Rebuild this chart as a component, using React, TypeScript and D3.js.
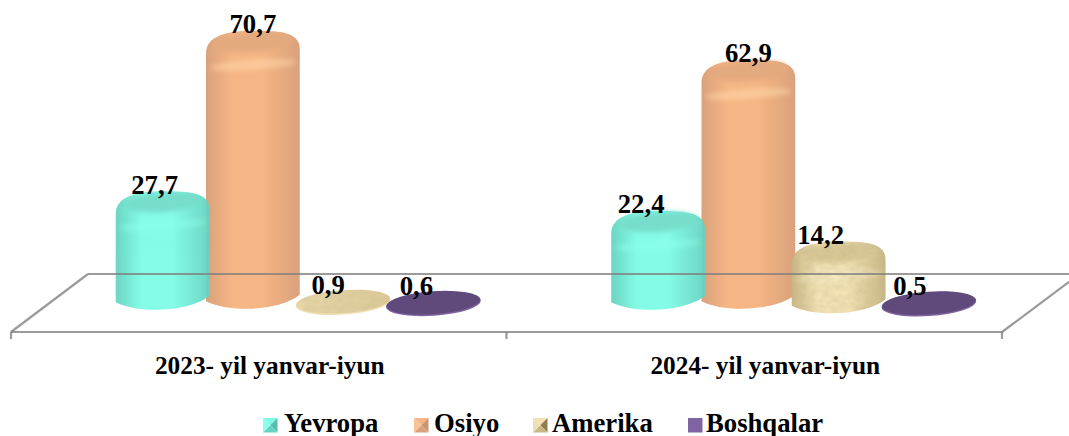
import React from "react";
import * as d3 from "d3";

const categories = ["2023- yil yanvar-iyun", "2024- yil yanvar-iyun"];
const seriesNames = ["Yevropa", "Osiyo", "Amerika", "Boshqalar"];
const yevropa = [27.7, 22.4];
const osiyo = [70.7, 62.9];
const amerika = [0.9, 14.2];
const boshqalar = [0.6, 0.5];
const seriesValues = [yevropa, osiyo, amerika, boshqalar];

const W = 1069, H = 436;
const FONT = "'Liberation Serif','Times New Roman',serif";
const fmt = (v: number) => v.toFixed(1).replace(".", ",");

const x0 = d3.scaleBand().domain(categories).range([11, 1002]);
const x1 = d3.scaleBand().domain(seriesNames).range([106.5, 467.5]);
const y = d3.scaleLinear().domain([0, 70.7]).range([307, 43.3]);

const RX = 47, RY = 12.5, TILT = 4;
const rad = (TILT * Math.PI) / 180;
const baseLift = [8, 9, 4.5, 4.5];
const labelShift = [[-8, 0, -15, -17], [-17, 0, -18, -19]];
const legendX = [263, 414, 533, 688];
const legendTextX = [284, 434, 552, 706];

const palette = [
  { id: "teal", edge: "#63d2bf", mid: "#7bfce4", cap: "#6cdcc8", hi: "#82ffea", light: "#8cfff0", dark: "#55bfae" },
  { id: "orange", edge: "#d9a27c", mid: "#f6b584", cap: "#e3a97f", hi: "#ffd9a8", light: "#f8c496", dark: "#c99670" },
  { id: "sand", edge: "#c8b684", mid: "#f2e2b4", cap: "#d8c694", hi: "#f7ecc6", light: "#efe0b2", dark: "#8f7c50" },
  { id: "purple", edge: "#604a7b", mid: "#604a7b", cap: "#604a7b", hi: "#604a7b", light: "#8064a2", dark: "#4f3d67" },
];

function cylinderPath(cx: number, top: number, base: number) {
  const dx = RX * Math.cos(rad), dy = RX * Math.sin(rad);
  const sh = 20;
  const path = d3.path();
  path.moveTo(cx - dx, base + dy);
  path.lineTo(cx - dx, top + sh + dy * 0.7);
  path.bezierCurveTo(cx - dx, top + 4 + dy * 0.4, cx - dx * 0.55, top, cx, top);
  path.bezierCurveTo(cx + dx * 0.55, top, cx + dx, top + 1 - dy * 0.1, cx + dx, top + sh - dy * 0.5);
  path.lineTo(cx + dx, base - dy);
  path.bezierCurveTo(cx + dx * 0.6, base + RY, cx - dx * 0.5, base + RY + 3, cx - dx, base + dy);
  path.closePath();
  return path.toString();
}

function Cylinder({ s, v, cx }: { s: number; v: number; cx: number }) {
  const p = palette[s];
  const cy = y(v);
  if (v < 2) {
    return (
      <g transform={`rotate(${-TILT} ${cx} ${cy - 2})`}>
        <ellipse cx={cx} cy={cy - 1} rx={RX + 0.5} ry={RY - 0.5} fill={p.light} />
        <ellipse cx={cx} cy={cy - 2} rx={RX} ry={RY - 1} fill={s === 2 ? "url(#sandCap)" : p.mid} />
        {s === 2 && <ellipse cx={cx} cy={cy - 2} rx={RX} ry={RY - 1} fill="#fff" filter="url(#wood)" opacity={0.5} />}
      </g>
    );
  }
  const top = cy - RY;
  const base = y(0) - baseLift[s];
  const d = cylinderPath(cx, top, base);
  const clipId = `clip-${s}-${Math.round(cx)}`;
  return (
    <g opacity={s === 0 ? 0.93 : 1}>
      <clipPath id={clipId}><path d={d} /></clipPath>
      <path d={d} fill={`url(#body-${p.id})`} />
      <g clipPath={`url(#${clipId})`} filter="url(#soft)">
        <ellipse cx={cx} cy={top + 34} rx={RX - 4} ry={5} fill={p.hi} opacity={0.55} transform={`rotate(${-TILT} ${cx} ${top + 34})`} />
        <ellipse cx={cx} cy={top + 11} rx={RX - 8} ry={10} fill={p.cap} transform={`rotate(${-TILT} ${cx} ${top + 11})`} />
      </g>
      {s === 2 && <path d={d} fill="#fff" filter="url(#wood)" opacity={0.6} />}
    </g>
  );
}

function Swatch({ s, x }: { s: number; x: number }) {
  const p = palette[s];
  const t = 418, z = 14.5, c = { x: x + z / 2, y: t + z / 2 };
  if (s === 3) return <rect x={x} y={t} width={z} height={z} fill="#8064a2" />;
  const tri = (pts: number[][]) => pts.map((q) => q.join(",")).join(" ");
  const a = [x, t], b = [x + z, t], e = [x + z, t + z], f = [x, t + z], m = [c.x, c.y];
  return (
    <g>
      <polygon points={tri([a, b, m])} fill={p.mid} />
      <polygon points={tri([b, e, m])} fill={p.dark} />
      <polygon points={tri([e, f, m])} fill={p.edge} />
      <polygon points={tri([f, a, m])} fill={p.light} />
    </g>
  );
}

export default function App() {
  const floorBack = d3.line()([[88, 274], [1069, 274]]) as string;
  const floorFront = d3.line()([[11, 332], [1002, 332]]) as string;
  const floorLeft = d3.line()([[11, 332], [88, 274]]) as string;
  const floorRight = d3.line()([[1002, 332], [1069, 282]]) as string;
  const ticks = [11, x0(categories[1]) as number, 1002];
  return (
    <svg width={W} height={H} viewBox={`0 0 ${W} ${H}`} style={{ position: "fixed", left: 0, top: 0, display: "block", background: "#fff" }}>
      <defs>
        {palette.map((p) => (
          <linearGradient key={p.id} id={`body-${p.id}`} x1="0" x2="1" y1="0" y2="0">
            <stop offset="0" stopColor={p.edge} />
            <stop offset="0.28" stopColor={p.mid} />
            <stop offset="0.6" stopColor={p.mid} />
            <stop offset="1" stopColor={p.edge} />
          </linearGradient>
        ))}
        <linearGradient id="sandCap" x1="0" x2="1" y1="0" y2="0">
          <stop offset="0" stopColor="#e6d6a8" />
          <stop offset="1" stopColor="#dcc998" />
        </linearGradient>
        <filter id="soft" x="-20%" y="-50%" width="140%" height="200%">
          <feGaussianBlur stdDeviation="2.5" />
        </filter>
        <filter id="wood" x="0" y="0" width="100%" height="100%">
          <feTurbulence type="fractalNoise" baseFrequency="0.12 0.2" numOctaves="2" seed="4" />
          <feColorMatrix values="0 0 0 0 0.55  0 0 0 0 0.46  0 0 0 0 0.25  0.9 0 0 0 -0.25" />
          <feComposite in2="SourceAlpha" operator="in" />
        </filter>
      </defs>

      {categories.map((cat, ci) => (
        <g key={cat} transform={`translate(${x0(cat)},0)`}>
          {[1, 0, 2, 3].map((s) => (
            <Cylinder key={s} s={s} v={seriesValues[s][ci]} cx={(x1(seriesNames[s]) as number) - 11 + x1.bandwidth() / 2 + 11} />
          ))}
        </g>
      ))}

      <g fill="none" stroke="#7f7f7f" strokeOpacity={0.78} strokeWidth={2.2}>
        <path d={floorBack} />
        <path d={floorFront} />
        <path d={floorLeft} />
        <path d={floorRight} />
        {ticks.map((t) => (
          <line key={t} x1={t} x2={t} y1={332} y2={339} />
        ))}
      </g>

      <g fontFamily={FONT} fontWeight="bold" fill="#000">
        {categories.map((cat, ci) => (
          <g key={cat}>
            {seriesNames.map((name, s) => (
              <text
                key={name}
                x={(x0(cat) as number) + (x1(name) as number) + x1.bandwidth() / 2 + labelShift[ci][s]}
                y={y(seriesValues[s][ci]) - 10}
                textAnchor="middle"
                fontSize={26.7}
              >
                {fmt(seriesValues[s][ci])}
              </text>
            ))}
            <text x={(x0(cat) as number) + x0.bandwidth() / 2 + 11} y={374} textAnchor="middle" fontSize={25.3}>
              {cat}
            </text>
          </g>
        ))}
        {seriesNames.map((name, s) => (
          <g key={name}>
            <Swatch s={s} x={legendX[s]} />
            <text x={legendTextX[s]} y={432} fontSize={26.7}>{name}</text>
          </g>
        ))}
      </g>
    </svg>
  );
}
